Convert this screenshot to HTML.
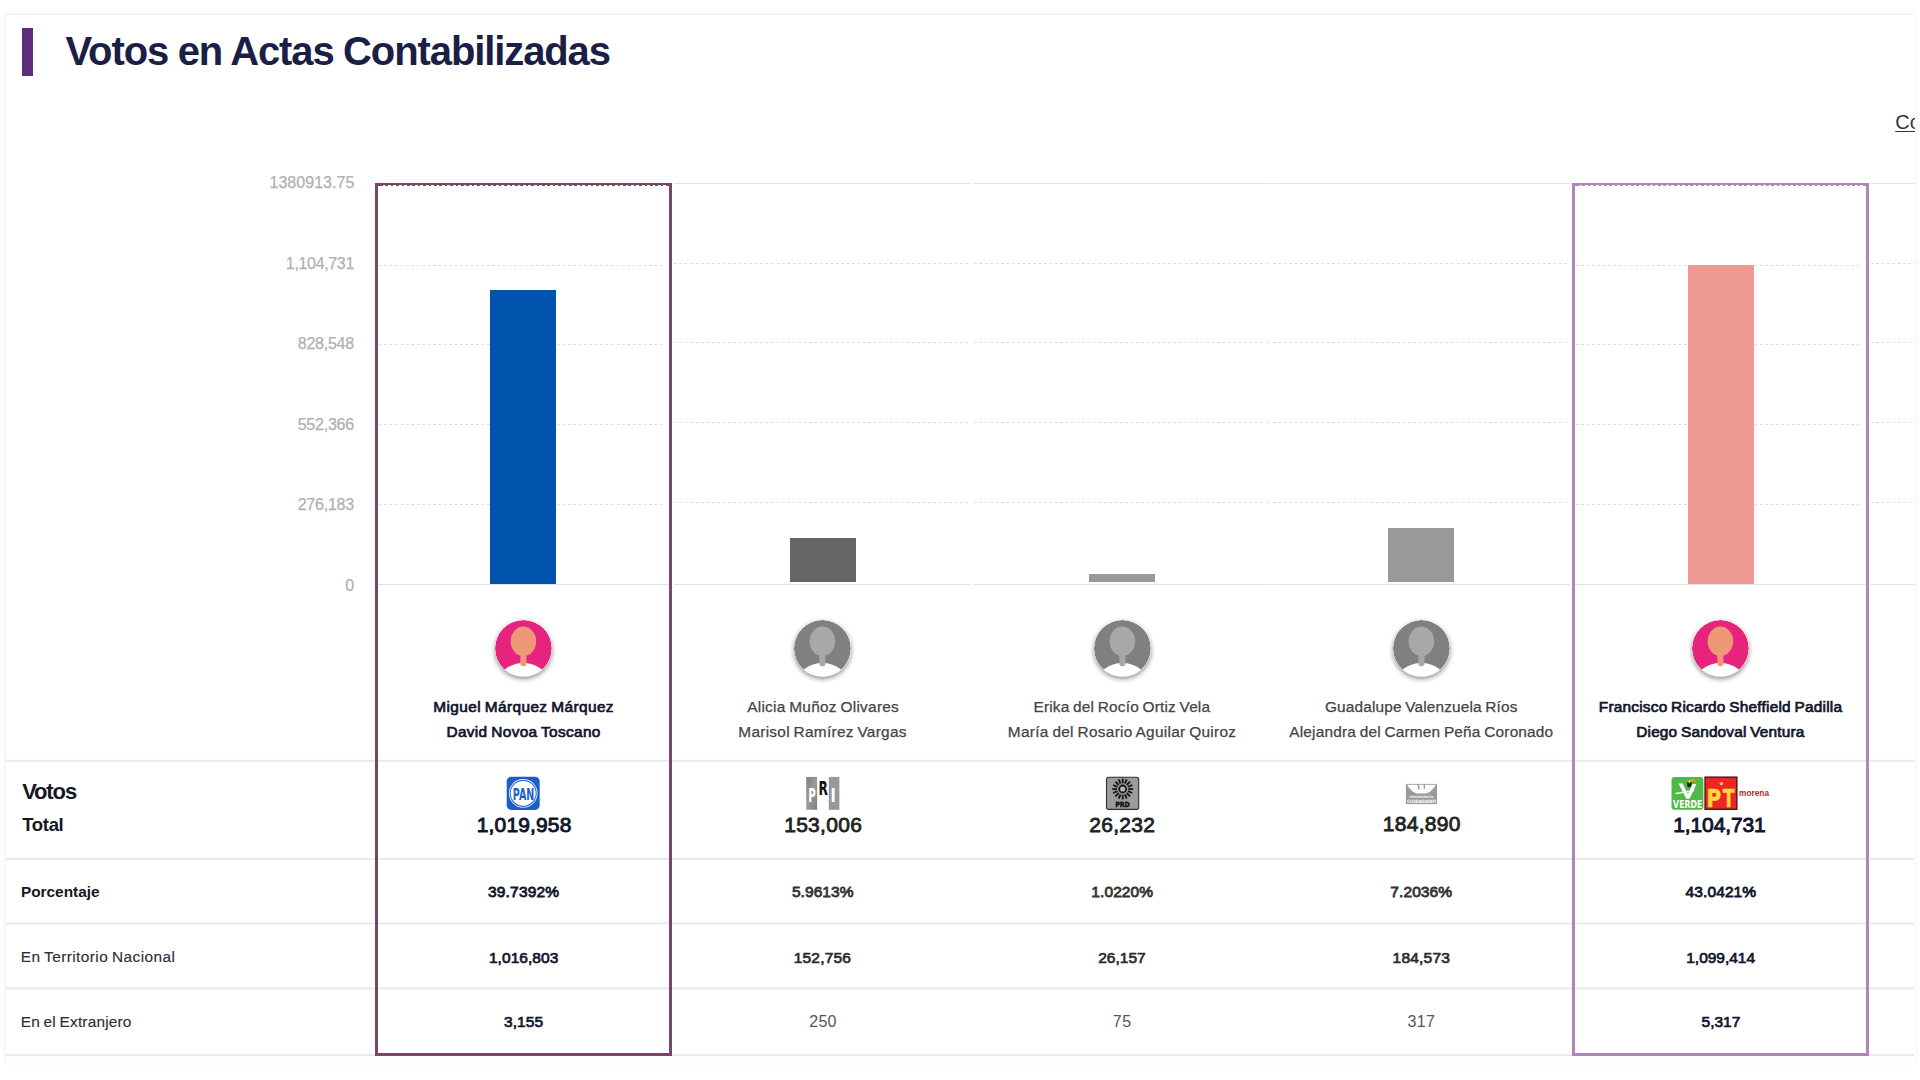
<!DOCTYPE html>
<html lang="es"><head><meta charset="utf-8"><title>Votos en Actas Contabilizadas</title>
<style>
html,body{margin:0;padding:0;background:#fff;}
body{width:1920px;height:1080px;overflow:hidden;position:relative;font-family:"Liberation Sans", Arial, sans-serif;}
.card{position:absolute;left:6px;top:15px;width:1909px;height:1048px;background:#fff;box-shadow:-1px -1px 0 0 #f3f3f3,0 -1px 5px rgba(0,0,0,.07);overflow:hidden;}
.in{position:absolute;left:-6px;top:-15px;width:1920px;height:1080px;}
.t{position:absolute;white-space:nowrap;line-height:1;}
.tb{position:absolute;left:22px;top:28px;width:11px;height:48px;background:#5b2d7a;}
.gs{position:absolute;height:1px;background:#e2e2e2;}
.gd{position:absolute;height:1px;background:repeating-linear-gradient(90deg,#dcdcdc 0,#dcdcdc 2.6px,transparent 2.6px,transparent 5.4px);}
.bar{position:absolute;}
.wd{position:absolute;height:1px;background:repeating-linear-gradient(90deg,transparent 0,transparent 2.6px,#fff 2.6px,#fff 5.4px);}
.rl{position:absolute;left:6px;width:1908px;height:1px;background:#e3e3e3;}
.sel{position:absolute;box-sizing:border-box;border:3px solid;}
.av{position:absolute;border-radius:50%;box-shadow:0 2px 5px rgba(0,0,0,.45);}
.lg{position:absolute;}
</style></head><body>
<div class="card"><div class="in">
<div class="tb"></div>
<div class="t" id="co" style="left:1895.2px;top:112.37px;font-size:20px;color:#333;text-decoration:underline;text-decoration-thickness:1px;text-underline-offset:2px;">Comparar</div>
<div class="gs" style="left:378.0px;width:291px;top:584px"></div>
<div class="gd" style="left:379.0px;width:286.0px;top:264.5px"></div>
<div class="gd" style="left:379.0px;width:286.0px;top:344.25px"></div>
<div class="gd" style="left:379.0px;width:286.0px;top:424.0px"></div>
<div class="gd" style="left:379.0px;width:286.0px;top:503.75px"></div>
<div class="gs" style="left:674.25px;width:297.0px;top:183px"></div>
<div class="gs" style="left:674.25px;width:297.0px;top:584px"></div>
<div class="gd" style="left:674.25px;width:297.0px;top:262.5px"></div>
<div class="gd" style="left:674.25px;width:297.0px;top:342.25px"></div>
<div class="gd" style="left:674.25px;width:297.0px;top:422.0px"></div>
<div class="gd" style="left:674.25px;width:297.0px;top:501.75px"></div>
<div class="gs" style="left:973.5px;width:297.0px;top:183px"></div>
<div class="gs" style="left:973.5px;width:297.0px;top:584px"></div>
<div class="gd" style="left:973.5px;width:297.0px;top:262.5px"></div>
<div class="gd" style="left:973.5px;width:297.0px;top:342.25px"></div>
<div class="gd" style="left:973.5px;width:297.0px;top:422.0px"></div>
<div class="gd" style="left:973.5px;width:297.0px;top:501.75px"></div>
<div class="gs" style="left:1272.75px;width:297.0px;top:183px"></div>
<div class="gs" style="left:1272.75px;width:297.0px;top:584px"></div>
<div class="gd" style="left:1272.75px;width:297.0px;top:262.5px"></div>
<div class="gd" style="left:1272.75px;width:297.0px;top:342.25px"></div>
<div class="gd" style="left:1272.75px;width:297.0px;top:422.0px"></div>
<div class="gd" style="left:1272.75px;width:297.0px;top:501.75px"></div>
<div class="gs" style="left:1575.0px;width:291px;top:584px"></div>
<div class="gd" style="left:1576.0px;width:286.0px;top:264.5px"></div>
<div class="gd" style="left:1576.0px;width:286.0px;top:344.25px"></div>
<div class="gd" style="left:1576.0px;width:286.0px;top:424.0px"></div>
<div class="gd" style="left:1576.0px;width:286.0px;top:503.75px"></div>
<div class="gs" style="left:1871.25px;width:60px;top:183px"></div>
<div class="gs" style="left:1871.25px;width:60px;top:584px"></div>
<div class="gd" style="left:1871.25px;width:60px;top:262.5px"></div>
<div class="gd" style="left:1871.25px;width:60px;top:342.25px"></div>
<div class="gd" style="left:1871.25px;width:60px;top:422.0px"></div>
<div class="gd" style="left:1871.25px;width:60px;top:501.75px"></div>
<div class="bar" style="left:490px;top:290px;width:66px;height:294px;background:#0054ae"></div>
<div class="bar" style="left:790px;top:538px;width:66px;height:44px;background:#666666"></div>
<div class="bar" style="left:1089px;top:574px;width:66px;height:8px;background:#999999"></div>
<div class="bar" style="left:1388px;top:528px;width:66px;height:54px;background:#999999"></div>
<div class="bar" style="left:1688px;top:265px;width:66px;height:319px;background:#ee9a92"></div>
<svg class="lg" style="left:0;top:0" width="1920" height="1080" viewBox="0 0 1920 1080">
<rect x="6" y="759.8" width="1908" height="1.9" fill="#e9e9e9"/>
<rect x="6" y="857.9" width="1908" height="1.9" fill="#e9e9e9"/>
<rect x="6" y="922.5" width="1908" height="1.9" fill="#e9e9e9"/>
<rect x="6" y="987.5" width="1908" height="1.9" fill="#e9e9e9"/>
<rect x="6" y="1054.1" width="1908" height="1.9" fill="#e9e9e9"/>
</svg>
<div class="sel" style="left:375.0px;top:183px;width:297px;height:872.5px;border-color:#7c4468"></div>
<div class="wd" style="left:380.0px;width:287px;top:185px"></div>
<div class="sel" style="left:1572.0px;top:183px;width:297px;height:872.5px;border-color:#ae86b8"></div>
<div class="wd" style="left:1577.0px;width:287px;top:185px"></div>
<svg class="av" style="left:495.0px;top:619.8px" width="56.8" height="56.8" viewBox="0 0 56 56"><defs><clipPath id="c523"><circle cx="28" cy="28" r="28"/></clipPath></defs><g clip-path="url(#c523)"><circle cx="28" cy="28" r="28" fill="#e6247e"/><ellipse cx="28" cy="60.5" rx="24" ry="18" fill="#fff"/><rect x="25" y="30" width="6" height="15.5" rx="2.5" fill="#ee9878"/><ellipse cx="28" cy="21" rx="12.6" ry="14.5" fill="#ee9878"/></g></svg>
<svg class="av" style="left:794.3px;top:619.8px" width="56.8" height="56.8" viewBox="0 0 56 56"><defs><clipPath id="c822"><circle cx="28" cy="28" r="28"/></clipPath></defs><g clip-path="url(#c822)"><circle cx="28" cy="28" r="28" fill="#808080"/><ellipse cx="28" cy="60.5" rx="24" ry="18" fill="#fff"/><rect x="25" y="30" width="6" height="15.5" rx="2.5" fill="#a8a8a8"/><ellipse cx="28" cy="21" rx="12.6" ry="14.5" fill="#a8a8a8"/></g></svg>
<svg class="av" style="left:1093.8px;top:619.8px" width="56.8" height="56.8" viewBox="0 0 56 56"><defs><clipPath id="c1122"><circle cx="28" cy="28" r="28"/></clipPath></defs><g clip-path="url(#c1122)"><circle cx="28" cy="28" r="28" fill="#808080"/><ellipse cx="28" cy="60.5" rx="24" ry="18" fill="#fff"/><rect x="25" y="30" width="6" height="15.5" rx="2.5" fill="#a8a8a8"/><ellipse cx="28" cy="21" rx="12.6" ry="14.5" fill="#a8a8a8"/></g></svg>
<svg class="av" style="left:1392.8px;top:619.8px" width="56.8" height="56.8" viewBox="0 0 56 56"><defs><clipPath id="c1421"><circle cx="28" cy="28" r="28"/></clipPath></defs><g clip-path="url(#c1421)"><circle cx="28" cy="28" r="28" fill="#808080"/><ellipse cx="28" cy="60.5" rx="24" ry="18" fill="#fff"/><rect x="25" y="30" width="6" height="15.5" rx="2.5" fill="#a8a8a8"/><ellipse cx="28" cy="21" rx="12.6" ry="14.5" fill="#a8a8a8"/></g></svg>
<svg class="av" style="left:1692.2px;top:619.8px" width="56.8" height="56.8" viewBox="0 0 56 56"><defs><clipPath id="c1720"><circle cx="28" cy="28" r="28"/></clipPath></defs><g clip-path="url(#c1720)"><circle cx="28" cy="28" r="28" fill="#e6247e"/><ellipse cx="28" cy="60.5" rx="24" ry="18" fill="#fff"/><rect x="25" y="30" width="6" height="15.5" rx="2.5" fill="#ee9878"/><ellipse cx="28" cy="21" rx="12.6" ry="14.5" fill="#ee9878"/></g></svg>
<svg class="lg" style="left:0;top:0" width="1920" height="1080" viewBox="0 0 1920 1080" font-family="Liberation Sans, Arial, sans-serif" font-weight="700">
<!-- PAN -->
<g>
<rect x="506.7" y="776.7" width="33" height="33.2" rx="4.6" fill="#1b5ec6"/>
<circle cx="523.2" cy="793.3" r="14.3" fill="#fff"/>
<circle cx="523.2" cy="793.3" r="13" fill="none" stroke="#3274d8" stroke-width="1.15"/>
<text x="512.8" y="799.6" font-size="16.6" font-family="DejaVu Sans, Liberation Sans, sans-serif" fill="#1b5ec6" textLength="21.5" lengthAdjust="spacingAndGlyphs">PAN</text>
</g>
<!-- PRI -->
<g>
<defs><linearGradient id="prig" x1="0" y1="0" x2="1" y2="1"><stop offset="0" stop-color="#7d7d7d"/><stop offset=".5" stop-color="#9a9a9a"/><stop offset="1" stop-color="#808080"/></linearGradient></defs>
<rect x="806.3" y="776.9" width="10.8" height="32.9" fill="url(#prig)"/>
<rect x="828.8" y="776.9" width="10.6" height="32.9" fill="#989898"/>
<text x="808.2" y="801.5" font-size="19.9" font-family="DejaVu Sans, Liberation Sans, sans-serif" fill="#fff" textLength="7.6" lengthAdjust="spacingAndGlyphs">P</text>
<text x="818.5" y="795" font-size="19.2" font-family="DejaVu Sans, Liberation Sans, sans-serif" fill="#111" textLength="9.4" lengthAdjust="spacingAndGlyphs">R</text>
<text x="830.5" y="801.5" font-size="19.9" font-family="DejaVu Sans, Liberation Sans, sans-serif" fill="#fff" textLength="5.3" lengthAdjust="spacingAndGlyphs">I</text>
</g>
<!-- PRD -->
<g>
<rect x="1106.5" y="777.2" width="32.2" height="32.2" rx="2.2" fill="#9c9c9c" stroke="#2e2e2e" stroke-width="1.1"/>
<g stroke="#141414" stroke-width="1.8" stroke-linecap="butt">
<line x1="1122.7" y1="783.3" x2="1122.7" y2="778.6"/><line x1="1124.9" y1="783.7" x2="1126.7" y2="779.4"/><line x1="1126.7" y1="785" x2="1130" y2="781.7"/><line x1="1128" y1="786.8" x2="1132.3" y2="785"/><line x1="1128.4" y1="789" x2="1133.1" y2="789"/><line x1="1128" y1="791.2" x2="1132.3" y2="793"/><line x1="1126.7" y1="793" x2="1130" y2="796.3"/><line x1="1124.9" y1="794.3" x2="1126.7" y2="798.6"/><line x1="1122.7" y1="794.7" x2="1122.7" y2="799.4"/><line x1="1120.5" y1="794.3" x2="1118.7" y2="798.6"/><line x1="1118.7" y1="793" x2="1115.4" y2="796.3"/><line x1="1117.4" y1="791.2" x2="1113.1" y2="793"/><line x1="1117" y1="789" x2="1112.3" y2="789"/><line x1="1117.4" y1="786.8" x2="1113.1" y2="785"/><line x1="1118.7" y1="785" x2="1115.4" y2="781.7"/><line x1="1120.5" y1="783.7" x2="1118.7" y2="779.4"/>
</g>
<circle cx="1122.7" cy="789" r="3.5" fill="#b4b4b4" stroke="#141414" stroke-width="1.8"/>
<text x="1115.2" y="807.3" font-size="7.1" font-family="DejaVu Sans, Liberation Sans, sans-serif" fill="#0c0c0c" stroke="#0c0c0c" stroke-width=".4" textLength="14.6" lengthAdjust="spacingAndGlyphs">PRD</text>
</g>
<!-- Movimiento Ciudadano -->
<g>
<rect x="1405.9" y="783.9" width="31.1" height="20.2" fill="#9a9a9a"/>
<path d="M1407.2 784.8 L1435.7 784.8 C1433.4 789.3 1429.6 793 1426 793.4 L1417 793.4 C1413.4 793 1409.6 789.3 1407.2 784.8 Z" fill="#fff"/>
<path d="M1417.3 784.3 L1418.7 784.3 L1420 789.2 L1418.4 789.4 Z M1423.7 784.3 L1425 784.3 L1425 788.9 L1423.6 788.9 Z" fill="#9a9a9a"/>
<text x="1409.5" y="798.2" font-size="3" font-family="DejaVu Sans, Liberation Sans, sans-serif" fill="#f4f4f4" textLength="23.7" lengthAdjust="spacingAndGlyphs">MOVIMIENTO</text>
<text x="1407" y="803.3" font-size="4.6" font-family="DejaVu Sans, Liberation Sans, sans-serif" fill="#fff" textLength="29" lengthAdjust="spacingAndGlyphs">CIUDADANO</text>
</g>
<!-- VERDE -->
<g>
<rect x="1671.5" y="776.9" width="31.9" height="32.9" rx="3.2" fill="#50b848"/>
<path d="M1674.6 792.9 L1694.6 789.6 L1694.2 791.3 L1676.5 794.2 Z" fill="#e9f6e6"/>
<path d="M1678.6 783.6 L1682.6 783.6 L1687.9 794.3 L1692.6 783.9 L1696.4 783.9 L1689.6 798.8 L1686.3 798.8 Z" fill="#fff"/>
<path d="M1687.2 783.2 C1687.2 781.6 1688.6 780.6 1690 781 C1691.6 781.5 1692 783.3 1691.4 785 C1690.8 786.8 1689.4 787.6 1688.2 787.2 C1687.2 786.7 1687.1 784.8 1687.2 783.2 Z" fill="#1a1a14"/>
<path d="M1688.3 780.9 C1690.5 778.6 1694.6 778.5 1696.6 781.6 C1694.4 780.5 1691.6 780.8 1689.7 782.2 Z" fill="#f6a21d"/>
<path d="M1688 781.8 C1688.6 780.6 1690 780.3 1690.8 781 L1689.6 783.6 Z" fill="#f5e12d"/>
<text x="1673.1" y="808.3" font-size="9.6" font-family="DejaVu Sans, Liberation Sans, sans-serif" fill="#fff" textLength="29.3" lengthAdjust="spacingAndGlyphs">VERDE</text>
</g>
<!-- PT -->
<g>
<rect x="1705" y="777.1" width="31.9" height="32.2" fill="#ee2524" stroke="#2b0d0d" stroke-width="1.2"/>
<text x="1706.4" y="806.9" font-size="25" font-family="DejaVu Sans, Liberation Sans, sans-serif" fill="#ffd83d" stroke="#ffd83d" stroke-width=".5" textLength="14.6" lengthAdjust="spacingAndGlyphs">P</text>
<text x="1722.8" y="806.9" font-size="25" font-family="DejaVu Sans, Liberation Sans, sans-serif" fill="#ffd83d" stroke="#ffd83d" stroke-width=".5" textLength="11.8" lengthAdjust="spacingAndGlyphs">T</text>
<circle cx="1721.4" cy="783.6" r="1.7" fill="#ffd060"/>
</g>
<text x="1739.1" y="795.7" font-size="8.4" fill="#b7281f" textLength="29.9" lengthAdjust="spacingAndGlyphs">morena</text>
</svg>

<div class="t" id="title" style="left:65.53px;top:31.00px;font-size:40px;font-weight:700;color:#1b1f45;letter-spacing:-1.104px;word-spacing:-0.5px;">Votos en Actas Contabilizadas</div>
<div class="t" id="yl0" style="left:269.52px;top:175.00px;font-size:16px;font-weight:400;color:#b0b0b2;letter-spacing:0.028px;-webkit-text-stroke:0.25px #b0b0b2;">1380913.75</div>
<div class="t" id="yl1" style="left:285.82px;top:256.00px;font-size:16px;font-weight:400;color:#b0b0b2;letter-spacing:-0.332px;-webkit-text-stroke:0.25px #b0b0b2;">1,104,731</div>
<div class="t" id="yl2" style="left:297.74px;top:336.00px;font-size:16px;font-weight:400;color:#b0b0b2;letter-spacing:-0.235px;-webkit-text-stroke:0.25px #b0b0b2;">828,548</div>
<div class="t" id="yl3" style="left:297.65px;top:417.00px;font-size:16px;font-weight:400;color:#b0b0b2;letter-spacing:-0.216px;-webkit-text-stroke:0.25px #b0b0b2;">552,366</div>
<div class="t" id="yl4" style="left:297.69px;top:497.00px;font-size:16px;font-weight:400;color:#b0b0b2;letter-spacing:-0.225px;-webkit-text-stroke:0.25px #b0b0b2;">276,183</div>
<div class="t" id="yl5" style="left:345.29px;top:578.00px;font-size:16px;font-weight:400;color:#b0b0b2;letter-spacing:0.000px;-webkit-text-stroke:0.25px #b0b0b2;">0</div>
<div class="t" id="n0a" style="left:433.28px;top:699.00px;font-size:15.4px;font-weight:400;color:#11152b;letter-spacing:0.392px;-webkit-text-stroke:0.7px #11152b;word-spacing:-0.8px;">Miguel Márquez Márquez</div>
<div class="t" id="n0b" style="left:446.48px;top:724.00px;font-size:15.4px;font-weight:400;color:#11152b;letter-spacing:0.336px;-webkit-text-stroke:0.7px #11152b;word-spacing:-0.8px;">David Novoa Toscano</div>
<div class="t" id="n1a" style="left:747.19px;top:699.00px;font-size:15.4px;font-weight:400;color:#444;letter-spacing:0.262px;-webkit-text-stroke:0.25px #444;word-spacing:-0.8px;">Alicia Muñoz Olivares</div>
<div class="t" id="n1b" style="left:738.33px;top:724.00px;font-size:15.4px;font-weight:400;color:#444;letter-spacing:0.276px;-webkit-text-stroke:0.25px #444;word-spacing:-0.8px;">Marisol Ramírez Vargas</div>
<div class="t" id="n2a" style="left:1033.53px;top:699.00px;font-size:15.4px;font-weight:400;color:#444;letter-spacing:0.174px;-webkit-text-stroke:0.25px #444;word-spacing:-0.8px;">Erika del Rocío Ortiz Vela</div>
<div class="t" id="n2b" style="left:1007.83px;top:724.00px;font-size:15.4px;font-weight:400;color:#444;letter-spacing:0.290px;-webkit-text-stroke:0.25px #444;word-spacing:-0.8px;">María del Rosario Aguilar Quiroz</div>
<div class="t" id="n3a" style="left:1324.96px;top:699.00px;font-size:15.4px;font-weight:400;color:#444;letter-spacing:0.148px;-webkit-text-stroke:0.25px #444;word-spacing:-0.8px;">Guadalupe Valenzuela Ríos</div>
<div class="t" id="n3b" style="left:1289.29px;top:724.00px;font-size:15.4px;font-weight:400;color:#444;letter-spacing:0.186px;-webkit-text-stroke:0.25px #444;word-spacing:-0.8px;">Alejandra del Carmen Peña Coronado</div>
<div class="t" id="n4a" style="left:1598.78px;top:699.00px;font-size:15.4px;font-weight:400;color:#11152b;letter-spacing:0.214px;-webkit-text-stroke:0.7px #11152b;word-spacing:-0.8px;">Francisco Ricardo Sheffield Padilla</div>
<div class="t" id="n4b" style="left:1636.28px;top:724.00px;font-size:15.4px;font-weight:400;color:#11152b;letter-spacing:0.171px;-webkit-text-stroke:0.7px #11152b;word-spacing:-0.8px;">Diego Sandoval Ventura</div>
<div class="t" id="votos" style="left:22.14px;top:781.00px;font-size:22px;font-weight:700;color:#16161f;letter-spacing:-1.115px;">Votos</div>
<div class="t" id="total" style="left:22.28px;top:816.00px;font-size:18.5px;font-weight:700;color:#16161f;letter-spacing:-0.334px;">Total</div>
<div class="t" id="porc" style="left:20.96px;top:884.00px;font-size:15.4px;font-weight:700;color:#16161f;letter-spacing:-0.017px;">Porcentaje</div>
<div class="t" id="terr" style="left:20.76px;top:949.00px;font-size:15.4px;font-weight:400;color:#2b2f38;letter-spacing:0.422px;-webkit-text-stroke:0.15px #2b2f38;word-spacing:-0.8px;">En Territorio Nacional</div>
<div class="t" id="extr" style="left:20.76px;top:1014.00px;font-size:15.4px;font-weight:400;color:#2b2f38;letter-spacing:0.181px;-webkit-text-stroke:0.15px #2b2f38;word-spacing:-0.8px;">En el Extranjero</div>
<div class="t" id="tot0" style="left:476.80px;top:814.00px;font-size:21px;font-weight:400;color:#11152b;letter-spacing:0.136px;-webkit-text-stroke:0.9px #11152b;">1,019,958</div>
<div class="t" id="tot1" style="left:784.17px;top:814.00px;font-size:21px;font-weight:400;color:#222;letter-spacing:0.299px;-webkit-text-stroke:0.8px #222;">153,006</div>
<div class="t" id="tot2" style="left:1089.33px;top:814.00px;font-size:21px;font-weight:400;color:#222;letter-spacing:0.258px;-webkit-text-stroke:0.8px #222;">26,232</div>
<div class="t" id="tot3" style="left:1382.87px;top:813.00px;font-size:21px;font-weight:400;color:#222;letter-spacing:0.258px;-webkit-text-stroke:0.8px #222;">184,890</div>
<div class="t" id="tot4" style="left:1673.30px;top:814.00px;font-size:21px;font-weight:400;color:#11152b;letter-spacing:-0.125px;-webkit-text-stroke:0.9px #11152b;">1,104,731</div>
<div class="t" id="pct0" style="left:487.96px;top:884.00px;font-size:15.5px;font-weight:400;color:#11152b;letter-spacing:0.196px;-webkit-text-stroke:0.8px #11152b;">39.7392%</div>
<div class="t" id="pct1" style="left:791.92px;top:884.00px;font-size:15.5px;font-weight:400;color:#333;letter-spacing:0.062px;-webkit-text-stroke:0.8px #333;">5.9613%</div>
<div class="t" id="pct2" style="left:1091.31px;top:884.00px;font-size:15.5px;font-weight:400;color:#333;letter-spacing:0.098px;-webkit-text-stroke:0.8px #333;">1.0220%</div>
<div class="t" id="pct3" style="left:1390.37px;top:884.00px;font-size:15.5px;font-weight:400;color:#333;letter-spacing:0.087px;-webkit-text-stroke:0.8px #333;">7.2036%</div>
<div class="t" id="pct4" style="left:1685.54px;top:884.00px;font-size:15.5px;font-weight:400;color:#11152b;letter-spacing:0.113px;-webkit-text-stroke:0.8px #11152b;">43.0421%</div>
<div class="t" id="ter0" style="left:488.96px;top:950.00px;font-size:15.5px;font-weight:400;color:#11152b;letter-spacing:0.043px;-webkit-text-stroke:0.7px #11152b;">1,016,803</div>
<div class="t" id="ter1" style="left:793.76px;top:950.00px;font-size:15.5px;font-weight:400;color:#2a2a2a;letter-spacing:0.188px;-webkit-text-stroke:0.7px #2a2a2a;">152,756</div>
<div class="t" id="ter2" style="left:1098.15px;top:950.00px;font-size:15.5px;font-weight:400;color:#2a2a2a;letter-spacing:0.031px;-webkit-text-stroke:0.7px #2a2a2a;">26,157</div>
<div class="t" id="ter3" style="left:1392.56px;top:950.00px;font-size:15.5px;font-weight:400;color:#2a2a2a;letter-spacing:0.209px;-webkit-text-stroke:0.7px #2a2a2a;">184,573</div>
<div class="t" id="ter4" style="left:1686.26px;top:950.00px;font-size:15.5px;font-weight:400;color:#11152b;letter-spacing:-0.013px;-webkit-text-stroke:0.7px #11152b;">1,099,414</div>
<div class="t" id="ext0" style="left:503.93px;top:1014.00px;font-size:15.5px;font-weight:400;color:#11152b;letter-spacing:0.121px;-webkit-text-stroke:0.7px #11152b;">3,155</div>
<div class="t" id="ext1" style="left:809.29px;top:1014.00px;font-size:16px;font-weight:400;color:#555;letter-spacing:0.268px;">250</div>
<div class="t" id="ext2" style="left:1112.80px;top:1014.00px;font-size:16px;font-weight:400;color:#555;letter-spacing:0.627px;">75</div>
<div class="t" id="ext3" style="left:1407.49px;top:1014.00px;font-size:16px;font-weight:400;color:#555;letter-spacing:0.342px;">317</div>
<div class="t" id="ext4" style="left:1701.59px;top:1014.00px;font-size:15.5px;font-weight:400;color:#11152b;letter-spacing:-0.019px;-webkit-text-stroke:0.7px #11152b;">5,317</div>
</div></div>
</body></html>
